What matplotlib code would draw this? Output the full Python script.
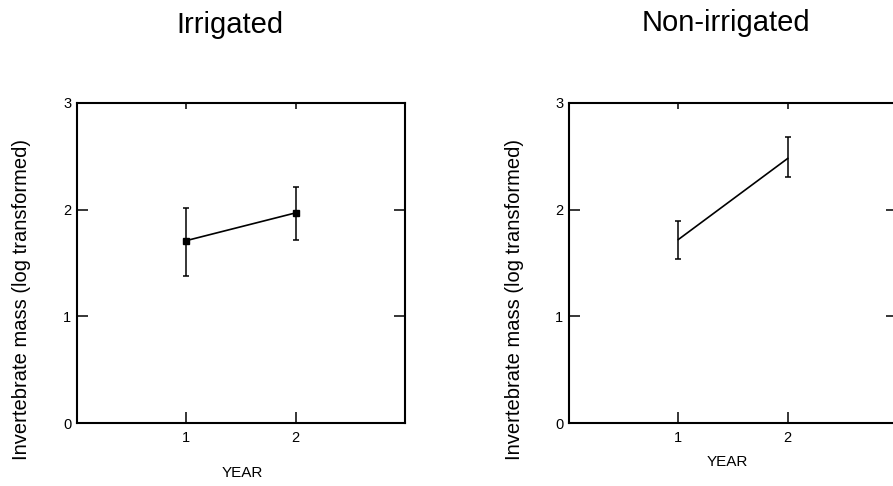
import matplotlib
matplotlib.use('Agg')
import matplotlib.pyplot as plt

# data
years = [1, 2]
irr_mean = [1.71, 1.97]
irr_lo = [1.38, 1.72]
irr_hi = [2.02, 2.21]
non_mean = [1.72, 2.48]
non_lo = [1.54, 2.31]
non_hi = [1.89, 2.68]

panel_titles = ['Irrigated', 'Non-irrigated']
ylab = 'Invertebrate mass (log transformed)'
xlab = 'YEAR'

plt.rcParams['font.family'] = ['Liberation Sans', 'DejaVu Sans']

W, H = 893, 486
fig = plt.figure(figsize=(W/100, H/100), dpi=100)

def px(x0, y0, x1, y1):
    # pixel box -> figure fraction rect
    return [x0/W, 1 - y1/H, (x1 - x0)/W, (y1 - y0)/H]

ax1 = fig.add_axes(px(77, 103, 405, 423))
ax2 = fig.add_axes(px(569, 103, 897, 423))

def style(ax):
    ax.set_xlim(0, 3)
    ax.set_ylim(0, 3)
    ax.set_xticks([1, 2])
    ax.set_yticks([0, 1, 2, 3])
    for s in ax.spines.values():
        s.set_linewidth(1.5)
    ax.tick_params(direction='in', length=8, width=1.1, labelsize=10.5,
                   top=True, right=True)
    ax.tick_params(axis='y', pad=4)
    ax.tick_params(axis='x', pad=6)
    ax.tick_params(axis='x', which='major', top=True)
    # shorter ticks along the top edge
    for t in ax.xaxis.get_major_ticks():
        t.tick2line.set_markersize(4)

def errs(m, lo, hi):
    return [[a - b for a, b in zip(m, lo)], [c - a for a, c in zip(m, hi)]]

style(ax1)
ax1.errorbar(years, irr_mean, yerr=errs(irr_mean, irr_lo, irr_hi), color='k',
             lw=1.2, elinewidth=1.1, capsize=2, capthick=1.1,
             marker='s', ms=5)

style(ax2)
ax2.errorbar(years, non_mean, yerr=errs(non_mean, non_lo, non_hi), color='k',
             lw=1.2, elinewidth=1.1, capsize=2, capthick=1.1)

fig.text(230/W, 1 - 25/H, panel_titles[0], ha='center', va='center', fontsize=21)
fig.text(726/W, 1 - 23/H, panel_titles[1], ha='center', va='center', fontsize=21)

fig.text(22/W, 1 - 300/H, ylab, rotation=90, ha='center', va='center', fontsize=14.5)
fig.text(515/W, 1 - 300/H, ylab, rotation=90, ha='center', va='center', fontsize=14.5)

fig.text(242/W, 1 - 473/H, xlab, ha='center', va='center', fontsize=11)
fig.text(727/W, 1 - 462/H, xlab, ha='center', va='center', fontsize=11)

fig.savefig('out.png', dpi=100)
